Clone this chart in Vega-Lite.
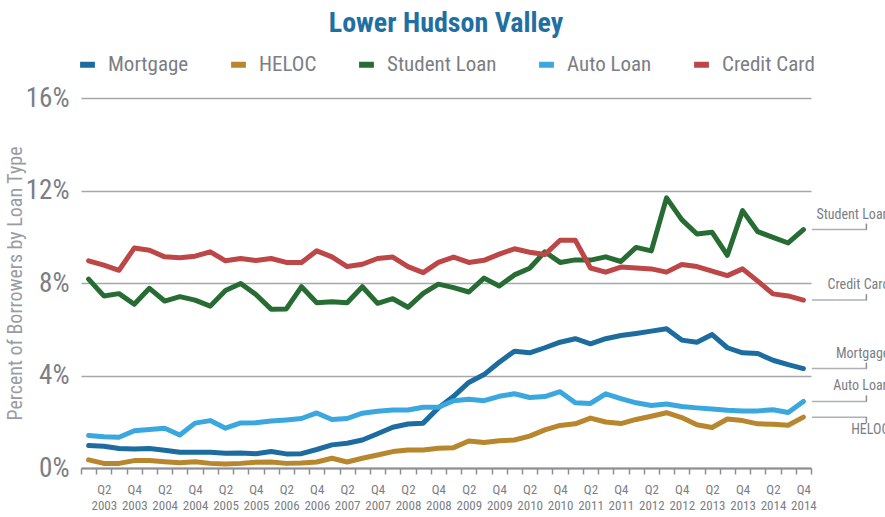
{
  "$schema": "https://vega.github.io/schema/vega-lite/v6.json",
  "width": 730,
  "height": 370,
  "autosize": {"type": "none"},
  "padding": {"left": 81, "top": 98, "right": 74, "bottom": 49},
  "background": "white",
  "config": {
    "view": {"stroke": null},
    "font": "Liberation Sans Narrow, Roboto Condensed, Roboto, sans-serif"
  },
  "title": {
    "text": "Lower Hudson Valley",
    "fontSize": 28,
    "fontWeight": "bold",
    "color": "#1f6fa3",
    "font": "Liberation Sans Narrow, Roboto Condensed, Roboto, sans-serif",
    "anchor": "middle",
    "offset": 16
  },
  "data": {"values": [
    {"q":"2003-Q1","s":"Mortgage","v":0.97},{"q":"2003-Q2","s":"Mortgage","v":0.94},{"q":"2003-Q3","s":"Mortgage","v":0.84},{"q":"2003-Q4","s":"Mortgage","v":0.82},
    {"q":"2004-Q1","s":"Mortgage","v":0.84},{"q":"2004-Q2","s":"Mortgage","v":0.77},{"q":"2004-Q3","s":"Mortgage","v":0.68},{"q":"2004-Q4","s":"Mortgage","v":0.68},
    {"q":"2005-Q1","s":"Mortgage","v":0.68},{"q":"2005-Q2","s":"Mortgage","v":0.64},{"q":"2005-Q3","s":"Mortgage","v":0.65},{"q":"2005-Q4","s":"Mortgage","v":0.62},
    {"q":"2006-Q1","s":"Mortgage","v":0.71},{"q":"2006-Q2","s":"Mortgage","v":0.61},{"q":"2006-Q3","s":"Mortgage","v":0.62},{"q":"2006-Q4","s":"Mortgage","v":0.80},
    {"q":"2007-Q1","s":"Mortgage","v":1.00},{"q":"2007-Q2","s":"Mortgage","v":1.07},{"q":"2007-Q3","s":"Mortgage","v":1.21},{"q":"2007-Q4","s":"Mortgage","v":1.48},
    {"q":"2008-Q1","s":"Mortgage","v":1.76},{"q":"2008-Q2","s":"Mortgage","v":1.90},{"q":"2008-Q3","s":"Mortgage","v":1.94},{"q":"2008-Q4","s":"Mortgage","v":2.60},
    {"q":"2009-Q1","s":"Mortgage","v":3.10},{"q":"2009-Q2","s":"Mortgage","v":3.70},{"q":"2009-Q3","s":"Mortgage","v":4.04},{"q":"2009-Q4","s":"Mortgage","v":4.57},
    {"q":"2010-Q1","s":"Mortgage","v":5.05},{"q":"2010-Q2","s":"Mortgage","v":4.98},{"q":"2010-Q3","s":"Mortgage","v":5.20},{"q":"2010-Q4","s":"Mortgage","v":5.44},
    {"q":"2011-Q1","s":"Mortgage","v":5.59},{"q":"2011-Q2","s":"Mortgage","v":5.37},{"q":"2011-Q3","s":"Mortgage","v":5.59},{"q":"2011-Q4","s":"Mortgage","v":5.73},
    {"q":"2012-Q1","s":"Mortgage","v":5.82},{"q":"2012-Q2","s":"Mortgage","v":5.92},{"q":"2012-Q3","s":"Mortgage","v":6.02},{"q":"2012-Q4","s":"Mortgage","v":5.53},
    {"q":"2013-Q1","s":"Mortgage","v":5.44},{"q":"2013-Q2","s":"Mortgage","v":5.77},{"q":"2013-Q3","s":"Mortgage","v":5.20},{"q":"2013-Q4","s":"Mortgage","v":4.98},
    {"q":"2014-Q1","s":"Mortgage","v":4.95},{"q":"2014-Q2","s":"Mortgage","v":4.66},{"q":"2014-Q3","s":"Mortgage","v":4.47},{"q":"2014-Q4","s":"Mortgage","v":4.30},

    {"q":"2003-Q1","s":"HELOC","v":0.35},{"q":"2003-Q2","s":"HELOC","v":0.20},{"q":"2003-Q3","s":"HELOC","v":0.20},{"q":"2003-Q4","s":"HELOC","v":0.32},
    {"q":"2004-Q1","s":"HELOC","v":0.32},{"q":"2004-Q2","s":"HELOC","v":0.27},{"q":"2004-Q3","s":"HELOC","v":0.23},{"q":"2004-Q4","s":"HELOC","v":0.27},
    {"q":"2005-Q1","s":"HELOC","v":0.20},{"q":"2005-Q2","s":"HELOC","v":0.17},{"q":"2005-Q3","s":"HELOC","v":0.20},{"q":"2005-Q4","s":"HELOC","v":0.25},
    {"q":"2006-Q1","s":"HELOC","v":0.26},{"q":"2006-Q2","s":"HELOC","v":0.20},{"q":"2006-Q3","s":"HELOC","v":0.22},{"q":"2006-Q4","s":"HELOC","v":0.26},
    {"q":"2007-Q1","s":"HELOC","v":0.42},{"q":"2007-Q2","s":"HELOC","v":0.26},{"q":"2007-Q3","s":"HELOC","v":0.42},{"q":"2007-Q4","s":"HELOC","v":0.56},
    {"q":"2008-Q1","s":"HELOC","v":0.71},{"q":"2008-Q2","s":"HELOC","v":0.78},{"q":"2008-Q3","s":"HELOC","v":0.78},{"q":"2008-Q4","s":"HELOC","v":0.85},
    {"q":"2009-Q1","s":"HELOC","v":0.88},{"q":"2009-Q2","s":"HELOC","v":1.17},{"q":"2009-Q3","s":"HELOC","v":1.10},{"q":"2009-Q4","s":"HELOC","v":1.18},
    {"q":"2010-Q1","s":"HELOC","v":1.21},{"q":"2010-Q2","s":"HELOC","v":1.38},{"q":"2010-Q3","s":"HELOC","v":1.65},{"q":"2010-Q4","s":"HELOC","v":1.84},
    {"q":"2011-Q1","s":"HELOC","v":1.91},{"q":"2011-Q2","s":"HELOC","v":2.16},{"q":"2011-Q3","s":"HELOC","v":1.99},{"q":"2011-Q4","s":"HELOC","v":1.92},
    {"q":"2012-Q1","s":"HELOC","v":2.10},{"q":"2012-Q2","s":"HELOC","v":2.24},{"q":"2012-Q3","s":"HELOC","v":2.39},{"q":"2012-Q4","s":"HELOC","v":2.18},
    {"q":"2013-Q1","s":"HELOC","v":1.87},{"q":"2013-Q2","s":"HELOC","v":1.75},{"q":"2013-Q3","s":"HELOC","v":2.12},{"q":"2013-Q4","s":"HELOC","v":2.05},
    {"q":"2014-Q1","s":"HELOC","v":1.91},{"q":"2014-Q2","s":"HELOC","v":1.89},{"q":"2014-Q3","s":"HELOC","v":1.85},{"q":"2014-Q4","s":"HELOC","v":2.20},

    {"q":"2003-Q1","s":"Student Loan","v":8.17},{"q":"2003-Q2","s":"Student Loan","v":7.44},{"q":"2003-Q3","s":"Student Loan","v":7.54},{"q":"2003-Q4","s":"Student Loan","v":7.08},
    {"q":"2004-Q1","s":"Student Loan","v":7.77},{"q":"2004-Q2","s":"Student Loan","v":7.22},{"q":"2004-Q3","s":"Student Loan","v":7.41},{"q":"2004-Q4","s":"Student Loan","v":7.26},
    {"q":"2005-Q1","s":"Student Loan","v":7.00},{"q":"2005-Q2","s":"Student Loan","v":7.68},{"q":"2005-Q3","s":"Student Loan","v":7.98},{"q":"2005-Q4","s":"Student Loan","v":7.50},
    {"q":"2006-Q1","s":"Student Loan","v":6.87},{"q":"2006-Q2","s":"Student Loan","v":6.88},{"q":"2006-Q3","s":"Student Loan","v":7.84},{"q":"2006-Q4","s":"Student Loan","v":7.15},
    {"q":"2007-Q1","s":"Student Loan","v":7.19},{"q":"2007-Q2","s":"Student Loan","v":7.15},{"q":"2007-Q3","s":"Student Loan","v":7.84},{"q":"2007-Q4","s":"Student Loan","v":7.12},
    {"q":"2008-Q1","s":"Student Loan","v":7.32},{"q":"2008-Q2","s":"Student Loan","v":6.95},{"q":"2008-Q3","s":"Student Loan","v":7.55},{"q":"2008-Q4","s":"Student Loan","v":7.95},
    {"q":"2009-Q1","s":"Student Loan","v":7.80},{"q":"2009-Q2","s":"Student Loan","v":7.61},{"q":"2009-Q3","s":"Student Loan","v":8.21},{"q":"2009-Q4","s":"Student Loan","v":7.87},
    {"q":"2010-Q1","s":"Student Loan","v":8.35},{"q":"2010-Q2","s":"Student Loan","v":8.64},{"q":"2010-Q3","s":"Student Loan","v":9.35},{"q":"2010-Q4","s":"Student Loan","v":8.89},
    {"q":"2011-Q1","s":"Student Loan","v":9.00},{"q":"2011-Q2","s":"Student Loan","v":8.99},{"q":"2011-Q3","s":"Student Loan","v":9.13},{"q":"2011-Q4","s":"Student Loan","v":8.93},
    {"q":"2012-Q1","s":"Student Loan","v":9.54},{"q":"2012-Q2","s":"Student Loan","v":9.39},{"q":"2012-Q3","s":"Student Loan","v":11.68},{"q":"2012-Q4","s":"Student Loan","v":10.74},
    {"q":"2013-Q1","s":"Student Loan","v":10.12},{"q":"2013-Q2","s":"Student Loan","v":10.19},{"q":"2013-Q3","s":"Student Loan","v":9.20},{"q":"2013-Q4","s":"Student Loan","v":11.13},
    {"q":"2014-Q1","s":"Student Loan","v":10.22},{"q":"2014-Q2","s":"Student Loan","v":9.97},{"q":"2014-Q3","s":"Student Loan","v":9.73},{"q":"2014-Q4","s":"Student Loan","v":10.31},

    {"q":"2003-Q1","s":"Auto Loan","v":1.41},{"q":"2003-Q2","s":"Auto Loan","v":1.35},{"q":"2003-Q3","s":"Auto Loan","v":1.33},{"q":"2003-Q4","s":"Auto Loan","v":1.61},
    {"q":"2004-Q1","s":"Auto Loan","v":1.66},{"q":"2004-Q2","s":"Auto Loan","v":1.72},{"q":"2004-Q3","s":"Auto Loan","v":1.43},{"q":"2004-Q4","s":"Auto Loan","v":1.94},
    {"q":"2005-Q1","s":"Auto Loan","v":2.05},{"q":"2005-Q2","s":"Auto Loan","v":1.72},{"q":"2005-Q3","s":"Auto Loan","v":1.95},{"q":"2005-Q4","s":"Auto Loan","v":1.96},
    {"q":"2006-Q1","s":"Auto Loan","v":2.03},{"q":"2006-Q2","s":"Auto Loan","v":2.08},{"q":"2006-Q3","s":"Auto Loan","v":2.14},{"q":"2006-Q4","s":"Auto Loan","v":2.38},
    {"q":"2007-Q1","s":"Auto Loan","v":2.10},{"q":"2007-Q2","s":"Auto Loan","v":2.14},{"q":"2007-Q3","s":"Auto Loan","v":2.37},{"q":"2007-Q4","s":"Auto Loan","v":2.45},
    {"q":"2008-Q1","s":"Auto Loan","v":2.51},{"q":"2008-Q2","s":"Auto Loan","v":2.51},{"q":"2008-Q3","s":"Auto Loan","v":2.63},{"q":"2008-Q4","s":"Auto Loan","v":2.63},
    {"q":"2009-Q1","s":"Auto Loan","v":2.91},{"q":"2009-Q2","s":"Auto Loan","v":2.97},{"q":"2009-Q3","s":"Auto Loan","v":2.91},{"q":"2009-Q4","s":"Auto Loan","v":3.10},
    {"q":"2010-Q1","s":"Auto Loan","v":3.21},{"q":"2010-Q2","s":"Auto Loan","v":3.05},{"q":"2010-Q3","s":"Auto Loan","v":3.09},{"q":"2010-Q4","s":"Auto Loan","v":3.30},
    {"q":"2011-Q1","s":"Auto Loan","v":2.82},{"q":"2011-Q2","s":"Auto Loan","v":2.79},{"q":"2011-Q3","s":"Auto Loan","v":3.21},{"q":"2011-Q4","s":"Auto Loan","v":3.00},
    {"q":"2012-Q1","s":"Auto Loan","v":2.82},{"q":"2012-Q2","s":"Auto Loan","v":2.70},{"q":"2012-Q3","s":"Auto Loan","v":2.77},{"q":"2012-Q4","s":"Auto Loan","v":2.66},
    {"q":"2013-Q1","s":"Auto Loan","v":2.60},{"q":"2013-Q2","s":"Auto Loan","v":2.55},{"q":"2013-Q3","s":"Auto Loan","v":2.50},{"q":"2013-Q4","s":"Auto Loan","v":2.47},
    {"q":"2014-Q1","s":"Auto Loan","v":2.47},{"q":"2014-Q2","s":"Auto Loan","v":2.52},{"q":"2014-Q3","s":"Auto Loan","v":2.40},{"q":"2014-Q4","s":"Auto Loan","v":2.88},

    {"q":"2003-Q1","s":"Credit Card","v":8.96},{"q":"2003-Q2","s":"Credit Card","v":8.77},{"q":"2003-Q3","s":"Credit Card","v":8.55},{"q":"2003-Q4","s":"Credit Card","v":9.51},
    {"q":"2004-Q1","s":"Credit Card","v":9.42},{"q":"2004-Q2","s":"Credit Card","v":9.13},{"q":"2004-Q3","s":"Credit Card","v":9.09},{"q":"2004-Q4","s":"Credit Card","v":9.16},
    {"q":"2005-Q1","s":"Credit Card","v":9.35},{"q":"2005-Q2","s":"Credit Card","v":8.96},{"q":"2005-Q3","s":"Credit Card","v":9.06},{"q":"2005-Q4","s":"Credit Card","v":8.97},
    {"q":"2006-Q1","s":"Credit Card","v":9.06},{"q":"2006-Q2","s":"Credit Card","v":8.89},{"q":"2006-Q3","s":"Credit Card","v":8.89},{"q":"2006-Q4","s":"Credit Card","v":9.39},
    {"q":"2007-Q1","s":"Credit Card","v":9.13},{"q":"2007-Q2","s":"Credit Card","v":8.71},{"q":"2007-Q3","s":"Credit Card","v":8.81},{"q":"2007-Q4","s":"Credit Card","v":9.06},
    {"q":"2008-Q1","s":"Credit Card","v":9.12},{"q":"2008-Q2","s":"Credit Card","v":8.71},{"q":"2008-Q3","s":"Credit Card","v":8.45},{"q":"2008-Q4","s":"Credit Card","v":8.89},
    {"q":"2009-Q1","s":"Credit Card","v":9.12},{"q":"2009-Q2","s":"Credit Card","v":8.89},{"q":"2009-Q3","s":"Credit Card","v":8.98},{"q":"2009-Q4","s":"Credit Card","v":9.25},
    {"q":"2010-Q1","s":"Credit Card","v":9.48},{"q":"2010-Q2","s":"Credit Card","v":9.33},{"q":"2010-Q3","s":"Credit Card","v":9.23},{"q":"2010-Q4","s":"Credit Card","v":9.85},
    {"q":"2011-Q1","s":"Credit Card","v":9.85},{"q":"2011-Q2","s":"Credit Card","v":8.65},{"q":"2011-Q3","s":"Credit Card","v":8.47},{"q":"2011-Q4","s":"Credit Card","v":8.69},
    {"q":"2012-Q1","s":"Credit Card","v":8.65},{"q":"2012-Q2","s":"Credit Card","v":8.61},{"q":"2012-Q3","s":"Credit Card","v":8.47},{"q":"2012-Q4","s":"Credit Card","v":8.80},
    {"q":"2013-Q1","s":"Credit Card","v":8.71},{"q":"2013-Q2","s":"Credit Card","v":8.51},{"q":"2013-Q3","s":"Credit Card","v":8.32},{"q":"2013-Q4","s":"Credit Card","v":8.61},
    {"q":"2014-Q1","s":"Credit Card","v":8.08},{"q":"2014-Q2","s":"Credit Card","v":7.53},{"q":"2014-Q3","s":"Credit Card","v":7.44},{"q":"2014-Q4","s":"Credit Card","v":7.26}
  ]},
  "encoding": {
    "x": {
      "field": "q",
      "type": "ordinal",
      "bandPosition": 0.5,
      "scale": {"type": "band", "paddingInner": 0, "paddingOuter": 0},
      "axis": {
        "title": null,
        "grid": false,
        "tickBand": "extent",
        "ticks": true,
        "tickSize": 6,
        "tickWidth": 1.5,
        "tickColor": "#8c8e93",
        "domainColor": "#8c8e93",
        "domainWidth": 2,
        "labelAngle": 0,
        "labelOverlap": false,
        "labelFontSize": 13,
        "labelColor": "#7b7e85",
        "labelPadding": 9,
        "labelLineHeight": 16,
        "labelBaseline": "top",
        "labelExpr": "test(/Q[24]/, datum.value) ? [slice(datum.value, 5), slice(datum.value, 0, 4)] : ''"
      }
    },
    "y": {
      "field": "v",
      "type": "quantitative",
      "scale": {"domain": [0, 16], "nice": false},
      "axis": {
        "title": "Percent of Borrowers by Loan Type",
        "titleFontSize": 20,
        "titleFontWeight": "normal",
        "titleColor": "#9a9ca2",
        "titlePadding": 0,
        "values": [0, 4, 8, 12, 16],
        "labelExpr": "datum.value + '%'",
        "labelFontSize": 27,
        "labelColor": "#7b7e85",
        "labelPadding": 12,
        "domain": false,
        "ticks": false,
        "grid": true,
        "gridColor": "#a5a7ab",
        "gridWidth": 1.5
      }
    }
  },
  "layer": [
    {
      "mark": {"type": "line", "strokeWidth": 5, "strokeCap": "round", "strokeJoin": "round"},
      "encoding": {
        "color": {
          "field": "s",
          "type": "nominal",
          "scale": {
            "domain": ["Mortgage", "HELOC", "Student Loan", "Auto Loan", "Credit Card"],
            "range": ["#1d6c9f", "#b8862d", "#276d33", "#3ba7df", "#bd4647"]
          },
          "legend": {
            "title": null,
            "orient": "none",
            "legendX": -4,
            "legendY": -44,
            "direction": "horizontal",
            "columns": 5,
            "symbolType": "stroke",
            "symbolStrokeWidth": 6,
            "symbolSize": 220,
            "labelFontSize": 21,
            "labelColor": "#7b7e85",
            "labelOffset": 10,
            "columnPadding": 30
          }
        }
      }
    },
    {
      "transform": [{"filter": "datum.q == '2014-Q4'"}],
      "mark": {"type": "tick", "orient": "horizontal", "size": 55, "thickness": 1.5, "xOffset": 36, "color": "#8c8e93"},
      "encoding": {}
    },
    {
      "transform": [{"filter": "datum.q == '2014-Q4' && datum.s != 'HELOC'"}],
      "mark": {"type": "rule", "strokeWidth": 1.5, "xOffset": 63, "y2Offset": -6, "color": "#8c8e93"},
      "encoding": {"y2": {"field": "v"}}
    },
    {
      "transform": [{"filter": "datum.q == '2014-Q4' && datum.s == 'HELOC'"}],
      "mark": {"type": "rule", "strokeWidth": 1.5, "xOffset": 63, "y2Offset": 6, "color": "#8c8e93"},
      "encoding": {"y2": {"field": "v"}}
    },
    {
      "transform": [{"filter": "datum.q == '2014-Q4' && datum.s != 'HELOC'"}],
      "mark": {"type": "text", "align": "right", "baseline": "middle", "dx": 86, "dy": -15, "fontSize": 14, "color": "#7b7e85"},
      "encoding": {"text": {"field": "s"}}
    },
    {
      "transform": [{"filter": "datum.q == '2014-Q4' && datum.s == 'HELOC'"}],
      "mark": {"type": "text", "align": "right", "baseline": "middle", "dx": 86, "dy": 13, "fontSize": 14, "color": "#7b7e85"},
      "encoding": {"text": {"field": "s"}}
    }
  ]
}
